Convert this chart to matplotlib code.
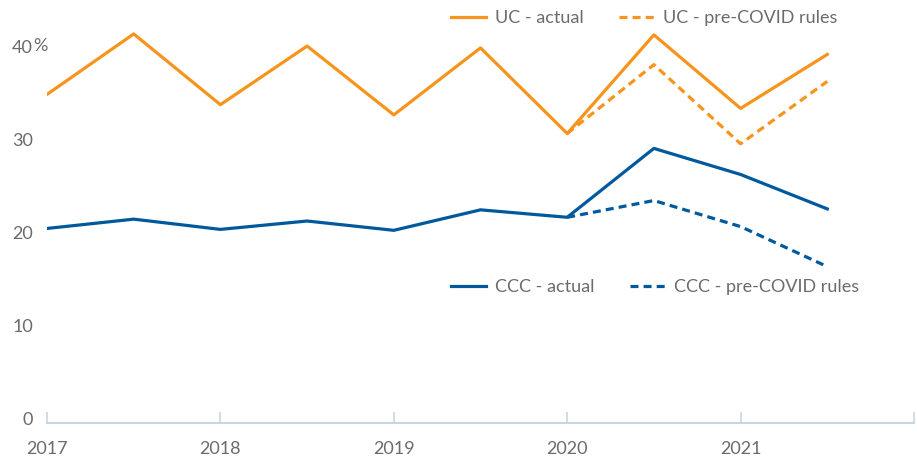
import matplotlib.pyplot as plt
import numpy as np

plt.rcParams['font.family'] = ['Lato', 'DejaVu Sans']

years = [2017, 2017.5, 2018, 2018.5, 2019, 2019.5, 2020, 2020.5, 2021, 2021.5]
uc_actual = [34.8, 41.3, 33.7, 40.0, 32.6, 39.8, 30.6, 41.2, 33.3, 39.1]
ccc_actual = [20.4, 21.4, 20.3, 21.2, 20.2, 22.4, 21.6, 29.0, 26.2, 22.5]

covid_years = [2020, 2020.5, 2021, 2021.5]
uc_precovid = [30.6, 38.0, 29.5, 36.2]
ccc_precovid = [21.6, 23.4, 20.6, 16.3]

yticks = [0, 10, 20, 30, 40]
xticks = [2017, 2018, 2019, 2020, 2021, 2022]
xlabels = ['2017', '2018', '2019', '2020', '2021', '']

orange = '#F7941D'
blue = '#00599C'
grey = '#6b6b6b'
axis_col = '#C8D6E4'

fig = plt.figure(figsize=(9.17, 4.62), dpi=100)
ax = fig.add_axes([47/917, 39/462, 867/917, 413/462])

lw = 2.3
dash = (2.5, 1.6)
l1, = ax.plot(years, uc_actual, color=orange, lw=lw, label='UC - actual')
l2, = ax.plot(covid_years, uc_precovid, color=orange, lw=lw, dashes=dash, label='UC - pre-COVID rules')
l3, = ax.plot(years, ccc_actual, color=blue, lw=lw, label='CCC - actual')
l4, = ax.plot(covid_years, ccc_precovid, color=blue, lw=lw, dashes=dash, label='CCC - pre-COVID rules')

ax.set_xlim(2017, 2022)
ax.set_ylim(-0.5, 43.87)

for s in ['top', 'right', 'left']:
    ax.spines[s].set_visible(False)
ax.spines['bottom'].set_color(axis_col)
ax.spines['bottom'].set_linewidth(1.5)

ax.set_xticks(xticks)
ax.set_xticklabels(xlabels)
ax.tick_params(axis='x', direction='in', length=8, width=1.2, color=axis_col,
               labelcolor=grey, labelsize=13, pad=13)
ax.set_yticks(yticks)
ax.set_yticklabels([str(v) for v in yticks])
ax.tick_params(axis='y', length=0, labelcolor=grey, labelsize=13, pad=10)
# percent sign sits right after the "40" label
ax.text(-14/867, 40, '%', transform=ax.get_yaxis_transform(),
        ha='left', va='center', color=grey, fontsize=13)

leg_kw = dict(ncol=2, frameon=False, fontsize=13, handlelength=1.95, handletextpad=0.45,
              columnspacing=2.0, labelcolor=grey, borderaxespad=0)
leg1 = ax.legend(handles=[l1, l2], loc='center left', bbox_to_anchor=(397/867, 1 - 8/413), **leg_kw)
ax.add_artist(leg1)
ax.legend(handles=[l3, l4], loc='center left', bbox_to_anchor=(397/867, (423 - 287)/413), **leg_kw)

fig.savefig('out.png', dpi=100)
